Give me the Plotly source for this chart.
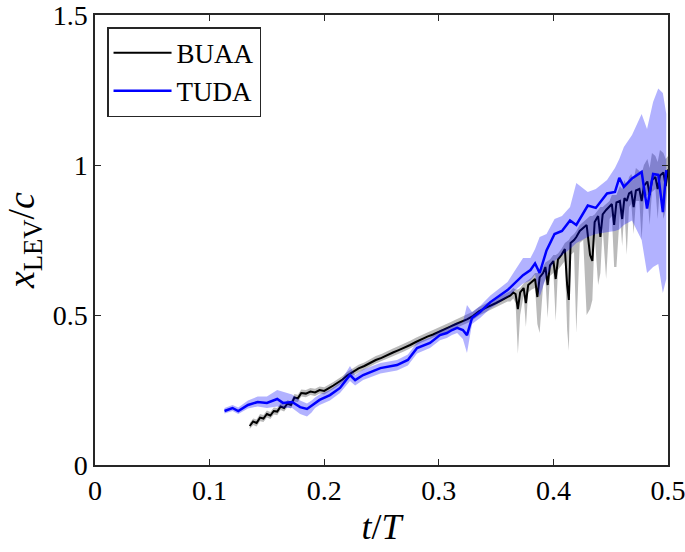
import plotly.graph_objects as go

# ---------------- data ----------------
t_buaa = [0.135, 0.138, 0.141, 0.144, 0.147, 0.150, 0.153, 0.156, 0.159, 0.162,
          0.165, 0.168, 0.171, 0.174, 0.177, 0.180, 0.184, 0.188, 0.192, 0.196,
          0.200, 0.204, 0.208, 0.212, 0.216, 0.220, 0.225, 0.230, 0.235, 0.240,
          0.245, 0.250, 0.255, 0.260, 0.265, 0.270, 0.275, 0.280, 0.285, 0.290,
          0.295, 0.300, 0.305, 0.310, 0.315, 0.320, 0.325, 0.330, 0.335, 0.340,
          0.345, 0.350, 0.355, 0.360,
          0.3625, 0.365, 0.367, 0.369, 0.371, 0.374, 0.376, 0.378, 0.381, 0.384,
          0.386, 0.388, 0.391, 0.393, 0.395, 0.397, 0.400, 0.402, 0.404, 0.407,
          0.410, 0.412, 0.4135, 0.415, 0.418, 0.420, 0.423, 0.426, 0.429, 0.432,
          0.434, 0.436, 0.439, 0.441, 0.443, 0.446, 0.449, 0.451, 0.453, 0.455,
          0.458, 0.460, 0.462, 0.464, 0.466, 0.468, 0.470, 0.472, 0.475, 0.477,
          0.479, 0.482, 0.484, 0.486, 0.489, 0.491, 0.493, 0.496, 0.498, 0.500]
x_buaa = [0.130, 0.145, 0.140, 0.158, 0.155, 0.170, 0.165, 0.180, 0.178, 0.195,
          0.190, 0.205, 0.200, 0.225, 0.222, 0.240, 0.238, 0.245, 0.242, 0.250,
          0.247, 0.255, 0.265, 0.275, 0.285, 0.298, 0.310, 0.322, 0.330, 0.340,
          0.350, 0.357, 0.367, 0.375, 0.383, 0.391, 0.400, 0.410, 0.420, 0.428,
          0.435, 0.443, 0.452, 0.461, 0.470, 0.478, 0.486, 0.497, 0.512, 0.522,
          0.530, 0.540, 0.550, 0.560,
          0.565, 0.575, 0.570, 0.520, 0.575, 0.590, 0.540, 0.600, 0.610, 0.620,
          0.560, 0.625, 0.640, 0.660, 0.600, 0.665, 0.680, 0.620, 0.685, 0.700,
          0.720, 0.600, 0.550, 0.740, 0.750, 0.760, 0.780, 0.790, 0.800, 0.700,
          0.680, 0.810, 0.830, 0.760, 0.835, 0.850, 0.860, 0.870, 0.800, 0.875,
          0.880, 0.820, 0.890, 0.880, 0.905, 0.910, 0.860, 0.915, 0.920, 0.880,
          0.930, 0.945, 0.900, 0.950, 0.960, 0.920, 0.965, 0.975, 0.930, 0.985]
buaa_lo = [0.120, 0.133, 0.128, 0.146, 0.143, 0.158, 0.153, 0.168, 0.166, 0.183,
           0.178, 0.193, 0.188, 0.212, 0.210, 0.228, 0.226, 0.233, 0.230, 0.238,
           0.235, 0.243, 0.253, 0.263, 0.273, 0.286, 0.298, 0.310, 0.318, 0.328,
           0.338, 0.345, 0.355, 0.363, 0.371, 0.379, 0.388, 0.398, 0.408, 0.416,
           0.423, 0.431, 0.440, 0.449, 0.457, 0.465, 0.473, 0.484, 0.498, 0.508,
           0.516, 0.526, 0.536, 0.545,
           0.545, 0.555, 0.540, 0.370, 0.500, 0.565, 0.460, 0.575, 0.585, 0.590,
           0.470, 0.440, 0.600, 0.620, 0.490, 0.630, 0.640, 0.480, 0.650, 0.665,
           0.680, 0.450, 0.380, 0.700, 0.710, 0.440, 0.740, 0.750, 0.500, 0.520,
           0.550, 0.770, 0.600, 0.640, 0.790, 0.620, 0.820, 0.830, 0.660, 0.660,
           0.840, 0.730, 0.850, 0.700, 0.860, 0.870, 0.770, 0.880, 0.880, 0.750,
           0.890, 0.900, 0.800, 0.910, 0.920, 0.820, 0.930, 0.820, 0.850, 0.950]
buaa_hi = [0.140, 0.155, 0.152, 0.170, 0.167, 0.182, 0.177, 0.192, 0.190, 0.207,
           0.202, 0.217, 0.212, 0.237, 0.234, 0.252, 0.250, 0.257, 0.254, 0.262,
           0.259, 0.267, 0.277, 0.287, 0.297, 0.310, 0.322, 0.334, 0.342, 0.352,
           0.363, 0.370, 0.380, 0.388, 0.397, 0.405, 0.414, 0.424, 0.434, 0.442,
           0.450, 0.458, 0.467, 0.476, 0.485, 0.494, 0.502, 0.512, 0.527, 0.537,
           0.545, 0.555, 0.565, 0.575,
           0.580, 0.590, 0.585, 0.585, 0.590, 0.605, 0.610, 0.615, 0.625, 0.640,
           0.640, 0.645, 0.660, 0.675, 0.680, 0.685, 0.700, 0.700, 0.705, 0.720,
           0.740, 0.745, 0.750, 0.760, 0.770, 0.780, 0.800, 0.810, 0.820, 0.830,
           0.830, 0.835, 0.850, 0.860, 0.860, 0.870, 0.880, 0.900, 0.900, 0.900,
           0.930, 0.920, 0.950, 0.930, 0.960, 0.970, 0.950, 0.990, 0.980, 0.970,
           1.000, 1.020, 0.990, 1.040, 1.030, 1.010, 1.050, 1.040, 1.020, 1.030]

t_tuda = [0.113, 0.120, 0.125, 0.1335, 0.142, 0.150, 0.159, 0.164, 0.172, 0.179,
          0.185, 0.189, 0.192, 0.196, 0.205, 0.2138, 0.2225, 0.227, 0.234, 0.249,
          0.2635, 0.273, 0.281, 0.2923, 0.301, 0.307, 0.3115, 0.316, 0.321, 0.3246,
          0.329, 0.336, 0.345, 0.360, 0.3735, 0.380, 0.384, 0.388, 0.394, 0.401,
          0.4075, 0.4145, 0.420, 0.430, 0.437, 0.4468, 0.4537, 0.4575, 0.4615, 0.4686,
          0.477, 0.4817, 0.487, 0.4915, 0.4955, 0.4985]
x_tuda = [0.180, 0.190, 0.180, 0.200, 0.210, 0.207, 0.220, 0.207, 0.210, 0.193,
          0.187, 0.197, 0.207, 0.217, 0.233, 0.257, 0.300, 0.283, 0.300, 0.323,
          0.333, 0.350, 0.390, 0.407, 0.433, 0.440, 0.450, 0.457, 0.450, 0.433,
          0.490, 0.510, 0.543, 0.583, 0.633, 0.650, 0.672, 0.640, 0.715, 0.770,
          0.780, 0.815, 0.800, 0.865, 0.857, 0.905, 0.910, 0.957, 0.927, 0.955,
          0.977, 0.855, 0.970, 0.967, 0.843, 0.983]
tuda_lo = [0.172, 0.180, 0.170, 0.188, 0.195, 0.190, 0.195, 0.190, 0.190, 0.170,
           0.162, 0.175, 0.190, 0.200, 0.215, 0.240, 0.280, 0.265, 0.283, 0.305,
           0.315, 0.332, 0.372, 0.390, 0.416, 0.423, 0.433, 0.440, 0.420, 0.373,
           0.470, 0.490, 0.522, 0.560, 0.605, 0.615, 0.635, 0.560, 0.630, 0.680,
           0.700, 0.720, 0.740, 0.760, 0.770, 0.775, 0.780, 0.785, 0.800, 0.815,
           0.750, 0.640, 0.660, 0.670, 0.573, 0.620]
tuda_hi = [0.190, 0.200, 0.192, 0.215, 0.228, 0.228, 0.250, 0.245, 0.235, 0.215,
           0.205, 0.215, 0.225, 0.235, 0.250, 0.275, 0.330, 0.300, 0.318, 0.340,
           0.350, 0.368, 0.408, 0.425, 0.450, 0.457, 0.468, 0.475, 0.475, 0.533,
           0.510, 0.530, 0.565, 0.610, 0.690, 0.690, 0.720, 0.760, 0.770, 0.820,
           0.830, 0.860, 0.940, 0.910, 0.920, 0.950, 0.990, 1.020, 1.060, 1.100,
           1.170, 1.120, 1.210, 1.255, 1.240, 1.170]

x_ticks = [0, 0.1, 0.2, 0.3, 0.4, 0.5]
x_tick_labels = ["0", "0.1", "0.2", "0.3", "0.4", "0.5"]
y_ticks = [0, 0.5, 1, 1.5]
y_tick_labels = ["0", "0.5", "1", "1.5"]

# ---------------- figure ----------------
FONT = "Liberation Serif, DejaVu Serif, serif"
AX = "#262626"

fig = go.Figure()

fig.add_trace(go.Scatter(
    x=t_buaa + t_buaa[::-1], y=buaa_hi + buaa_lo[::-1],
    fill="toself", fillcolor="rgba(0,0,0,0.27)", line=dict(width=0),
    mode="lines", showlegend=False, hoverinfo="skip"))
fig.add_trace(go.Scatter(
    x=t_buaa, y=x_buaa, mode="lines", name="BUAA",
    line=dict(color="black", width=2)))
fig.add_trace(go.Scatter(
    x=t_tuda + t_tuda[::-1], y=tuda_hi + tuda_lo[::-1],
    fill="toself", fillcolor="rgba(0,0,255,0.3)", line=dict(width=0),
    mode="lines", showlegend=False, hoverinfo="skip"))
fig.add_trace(go.Scatter(
    x=t_tuda, y=x_tuda, mode="lines", name="TUDA",
    line=dict(color="#0000ff", width=2.5)))

axis_common = dict(
    showline=True, linecolor=AX, linewidth=1.5, mirror="ticks",
    ticks="inside", ticklen=6, tickwidth=1.3, tickcolor=AX,
    showgrid=False, zeroline=False, automargin=False,
    ticklabeloverflow="allow",
    tickfont=dict(family=FONT, size=28, color="black"),
)

fig.update_xaxes(range=[0, 0.5], tickvals=x_ticks, ticktext=x_tick_labels,
                 title=dict(text="<i>t</i>/<i>T</i>",
                            font=dict(family=FONT, size=36, color="black"),
                            standoff=8),
                 **axis_common)
fig.update_yaxes(range=[0, 1.5], tickvals=y_ticks, ticktext=y_tick_labels,
                 title=dict(text="<i>x</i><sub>LEV</sub>/<i>c</i>",
                            font=dict(family=FONT, size=38, color="black"),
                            standoff=8),
                 **axis_common)

fig.update_layout(
    width=685, height=552,
    margin=dict(l=95, r=17, t=15, b=87, autoexpand=False),
    paper_bgcolor="white", plot_bgcolor="white",
    showlegend=True,
    legend=dict(
        x=0.021, y=0.973, xanchor="left", yanchor="top",
        bgcolor="white", bordercolor=AX, borderwidth=1.5,
        font=dict(family=FONT, size=27, color="black"),
        itemwidth=58, tracegroupgap=0,
    ),
)

# remove the default 8px page margin so the figure fills the window exactly
fig.write_html("out.html",
               config={"displayModeBar": False},
               post_script="document.body.style.margin='0';")
